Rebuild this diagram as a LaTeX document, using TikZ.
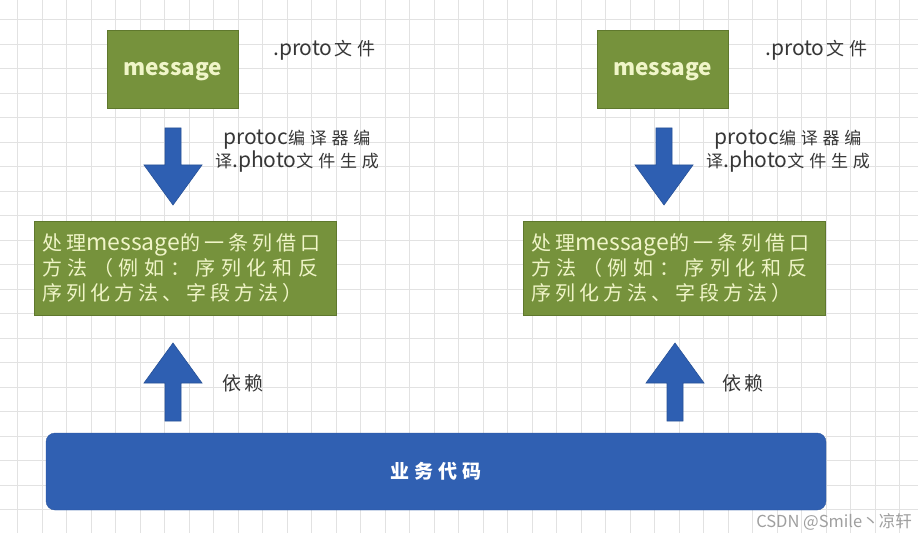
\documentclass[tikz,border=0pt]{standalone}
\usepackage{fontspec}
\usetikzlibrary{calc}
\setmainfont{Noto Sans CJK SC}
\newfontfamily\cj[LetterSpace=20]{Noto Sans CJK SC}
\newfontfamily\cjb[LetterSpace=28]{Noto Sans CJK SC}
\newfontfamily\cjw[LetterSpace=26]{Noto Sans CJK SC}
\definecolor{olive}{RGB}{118,146,60}
\definecolor{olivedark}{RGB}{95,120,45}
\definecolor{arrowblue}{RGB}{46,95,178}
\definecolor{barblue}{RGB}{48,96,178}
\definecolor{paletext}{RGB}{240,245,200}
\definecolor{gridgray}{RGB}{226,226,226}
\definecolor{labelgray}{RGB}{55,55,55}
\newcommand{\lat}[1]{{\fontsize{21}{23}\selectfont #1}}
\begin{document}
\begin{tikzpicture}[x=1pt,y=-1pt,
  msgbox/.style={draw=olivedark,line width=0.8pt,fill=olive,text=paletext,minimum width=131pt,minimum height=78pt,inner sep=0pt,text depth=0pt,font=\fontsize{22.5}{24}\selectfont\bfseries},
  methodbox/.style={draw=olivedark,line width=0.8pt,fill=olive,minimum width=302pt,minimum height=94pt,inner sep=0pt},
  methodtext/.style={text=paletext,anchor=north west,align=left,inner sep=0pt,font=\fontsize{20}{25}\selectfont},
  lbl/.style={text=labelgray,inner sep=0pt,font=\fontsize{17}{23}\selectfont},
  blockarrow/.style={fill=arrowblue,draw=arrowblue!85!black,line width=0.6pt},
  bar/.style={fill=barblue,draw=barblue!90!black,rounded corners=9pt,minimum width=780pt,minimum height=77pt,text=white,font=\fontsize{19}{22}\selectfont\bfseries}]
\useasboundingbox (0,0) rectangle (918,537);
\fill[white] (0,0) rectangle (918,537);
% grid
\begin{scope}
\clip (0,0) rectangle (918,533);
\foreach \i in {0,...,37} {\draw[gridgray,line width=0.9pt] ({17.5+24.5*\i},0) -- ({17.5+24.5*\i},533);}
\foreach \j in {0,...,21} {\draw[gridgray,line width=0.9pt] (0,{19.5+24.5*\j}) -- (918,{19.5+24.5*\j});}
\end{scope}

% left column
\node[msgbox] (msgL) at (172.5,69) {message};
\node[lbl,anchor=west] (protoL) at (273,50) {\lat{.proto}\hspace{2pt}{\fontsize{18}{23}\selectfont\cjb 文件}};
\node[lbl,align=center] (compL) at (297,151) {\lat{protoc}{\cjb 编译器编}\\{\cjb 译}\lat{.photo}{\cjb 文件生成}};
\node[methodbox] (methL) at (185,268) {};
\node[methodtext] (methLt) at (42,233) {{\cj 处理}{\fontsize{23}{25}\selectfont message}{\cj 的一条列借口}\\{\cjb 方法（例如：序列化和反}\\{\cj 序列化方法、字段方法）}};
\node[lbl,anchor=west,font=\fontsize{19}{23}\selectfont] (depL) at (222,383) {\cj 依赖};
\coordinate (dnL) at (173,128);
\coordinate (upL) at (173,421);
\draw[blockarrow] ($(dnL)+(-8,0)$) -- ++(16,0) -- ++(0,37) -- ++(21,0) -- ($(dnL)+(0,77)$) -- ($(dnL)+(-29,37)$) -- ++(21,0) -- cycle;
\draw[blockarrow] ($(upL)+(-8,0)$) -- ++(16,0) -- ++(0,-38) -- ++(21,0) -- ($(upL)+(0,-78)$) -- ($(upL)+(-29,-38)$) -- ++(21,0) -- cycle;

% right column
\node[msgbox] (msgR) at (662.5,69) {message};
\node[lbl,anchor=west] (protoR) at (765,50) {\lat{.proto}\hspace{2pt}{\fontsize{18}{23}\selectfont\cjb 文件}};
\node[lbl,align=center] (compR) at (788,151) {\lat{protoc}{\cjb 编译器编}\\{\cjb 译}\lat{.photo}{\cjb 文件生成}};
\node[methodbox] (methR) at (674.5,268) {};
\node[methodtext] (methRt) at (531,233) {{\cj 处理}{\fontsize{23}{25}\selectfont message}{\cj 的一条列借口}\\{\cjb 方法（例如：序列化和反}\\{\cj 序列化方法、字段方法）}};
\node[lbl,anchor=west,font=\fontsize{19}{23}\selectfont] (depR) at (722,383) {\cj 依赖};
\coordinate (dnR) at (664,128);
\coordinate (upR) at (675,421);
\draw[blockarrow] ($(dnR)+(-8,0)$) -- ++(16,0) -- ++(0,37) -- ++(21,0) -- ($(dnR)+(0,77)$) -- ($(dnR)+(-29,37)$) -- ++(21,0) -- cycle;
\draw[blockarrow] ($(upR)+(-8,0)$) -- ++(16,0) -- ++(0,-38) -- ++(21,0) -- ($(upR)+(0,-78)$) -- ($(upR)+(-29,-38)$) -- ++(21,0) -- cycle;

% bottom bar
\node[bar] (biz) at (436,471.5) {\cjw 业务代码};

% watermark
\node[text=gray!75,anchor=east,inner sep=0pt,font=\fontsize{16.5}{18}\selectfont] (wm) at (912,522) {CSDN @Smile丶凉轩};
\end{tikzpicture}
\end{document}
